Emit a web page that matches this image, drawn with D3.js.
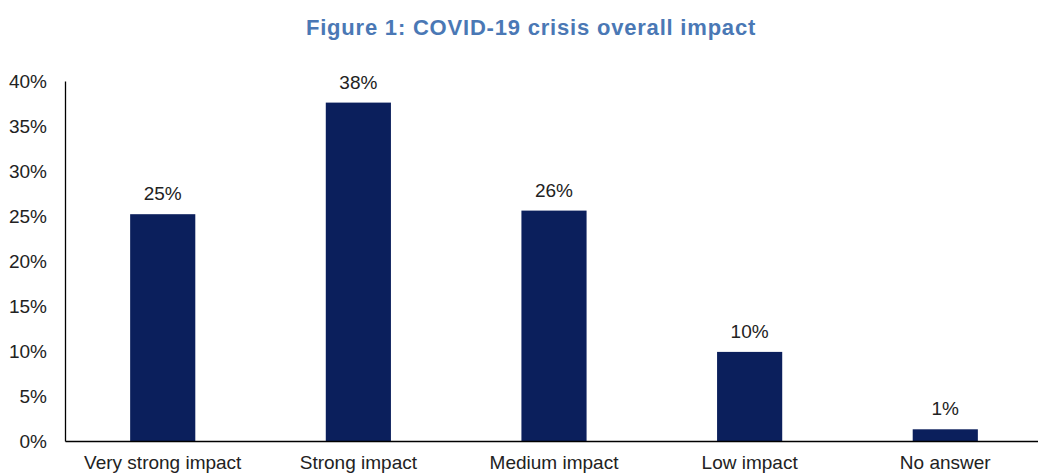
<!DOCTYPE html>
<html>
<head>
<meta charset="utf-8">
<script src="https://cdn.jsdelivr.net/npm/d3@7"></script>
<style>
  html, body { margin: 0; padding: 0; background: #fff; }
  svg { display: block; font-family: Arial, "Liberation Sans", sans-serif; }
</style>
</head>
<body>
<svg id="chart" width="1038" height="473"></svg>
<script>
const categories = ["Very strong impact", "Strong impact", "Medium impact", "Low impact", "No answer"];
const values = [25.2, 37.6, 25.6, 9.9, 1.3];
const valueLabels = ["25%", "38%", "26%", "10%", "1%"];
const yTicks = [0, 5, 10, 15, 20, 25, 30, 35, 40];
const title = "Figure 1: COVID-19 crisis overall impact";

const svg = d3.select("#chart");
const margin = { left: 65, right: -5, top: 81, bottom: 32 };
const W = 1038, H = 473;

const x = d3.scaleBand().domain(categories).range([margin.left, W - margin.right]).paddingInner(0.667).paddingOuter(0.333);
const y = d3.scaleLinear().domain([0, 40]).range([H - margin.bottom, margin.top]);

svg.append("text")
  .attr("x", 531).attr("y", 35)
  .attr("text-anchor", "middle")
  .attr("font-size", 22).attr("font-weight", "bold")
  .attr("fill", "#4a78b5")
  .attr("letter-spacing", "0.8")
  .text(title);

// bars
svg.selectAll("rect.bar").data(categories).join("rect")
  .attr("class", "bar")
  .attr("x", d => x(d))
  .attr("width", x.bandwidth())
  .attr("y", (d, i) => y(values[i]))
  .attr("height", (d, i) => y(0) - y(values[i]))
  .attr("fill", "#0b1f5c");

// value labels
svg.selectAll("text.val").data(categories).join("text")
  .attr("class", "val")
  .attr("x", d => x(d) + x.bandwidth() / 2)
  .attr("y", (d, i) => y(values[i]) - 14)
  .attr("text-anchor", "middle")
  .attr("font-size", 19)
  .attr("fill", "#222")
  .text((d, i) => valueLabels[i]);

// y axis
const yAxis = d3.axisLeft(y).tickValues(yTicks).tickSize(0).tickPadding(18).tickFormat(d => d + "%");
const gy = svg.append("g").attr("transform", `translate(${margin.left},0)`).call(yAxis);
gy.select(".domain").attr("stroke", "#000").attr("stroke-width", 1.3);
gy.selectAll("text").attr("font-size", 19).attr("fill", "#222").attr("font-family", "Arial, 'Liberation Sans', sans-serif");

// x axis
const xAxis = d3.axisBottom(x).tickSize(0).tickPadding(15);
const gx = svg.append("g").attr("transform", `translate(0,${y(0)})`).call(xAxis);
gx.select(".domain").attr("stroke", "#000").attr("stroke-width", 1.3);
gx.selectAll("text").attr("font-size", 19).attr("fill", "#222").attr("font-family", "Arial, 'Liberation Sans', sans-serif");
</script>
</body>
</html>
